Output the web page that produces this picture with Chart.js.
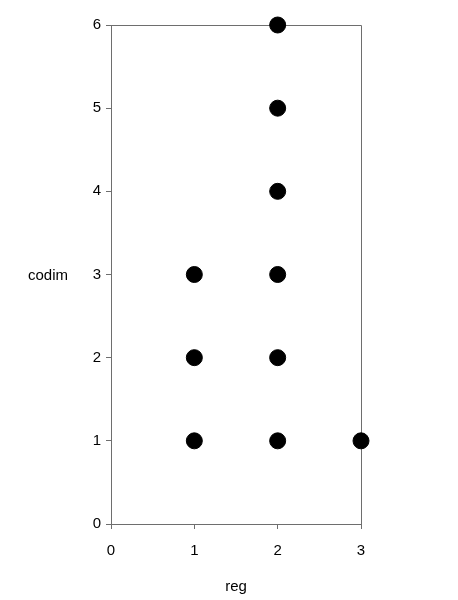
<!DOCTYPE html>
<html>
<head>
<meta charset="utf-8">
<script src="https://cdn.jsdelivr.net/npm/chart.js@4"></script>
<style>
html,body{margin:0;padding:0;background:#fff;}
#wrap{width:458px;height:600px;position:relative;}
</style>
</head>
<body>
<div id="wrap"><canvas id="c" width="458" height="600"></canvas></div>
<script>
const regValues = [1, 1, 1, 2, 2, 2, 2, 2, 2, 3];
const codimValues = [1, 2, 3, 1, 2, 3, 4, 5, 6, 1];
const xTicks = [0, 1, 2, 3];
const yTicks = [0, 1, 2, 3, 4, 5, 6];
const xTitle = 'reg';
const yTitle = 'codim';

const points = regValues.map((x, i) => ({x: x, y: codimValues[i]}));
const FONT = 'Liberation Sans, Arial, sans-serif';
const AXIS = '#6e6e6e';

const framePlugin = {
  id: 'frame',
  beforeDatasetsDraw(chart) {
    const a = chart.chartArea, ctx = chart.ctx;
    ctx.save();
    ctx.strokeStyle = AXIS;
    ctx.lineWidth = 1;
    ctx.beginPath();
    ctx.moveTo(a.left, a.top + 0.5);
    ctx.lineTo(a.right + 0.5, a.top + 0.5);
    ctx.lineTo(a.right + 0.5, a.bottom);
    ctx.stroke();
    ctx.restore();
  },
  afterDraw(chart) {
    const a = chart.chartArea, ctx = chart.ctx;
    ctx.save();
    ctx.fillStyle = '#000';
    ctx.font = '15px ' + FONT;
    ctx.textAlign = 'center';
    ctx.textBaseline = 'middle';
    ctx.fillText(yTitle, 48, (a.top + a.bottom) / 2 + 1);
    ctx.fillText(xTitle, (a.left + a.right) / 2, 587);
    ctx.restore();
  }
};

new Chart(document.getElementById('c'), {
  type: 'scatter',
  data: {
    datasets: [{
      data: points,
      backgroundColor: '#000',
      borderColor: '#000',
      pointRadius: 8,
      pointHoverRadius: 8,
      clip: false
    }]
  },
  options: {
    responsive: false,
    animation: false,
    events: [],
    layout: {padding: {top: 25, right: 97, left: 0, bottom: 0}},
    plugins: {legend: {display: false}, tooltip: {enabled: false}},
    scales: {
      x: {
        type: 'linear', min: 0, max: 3,
        afterBuildTicks(s) { s.ticks = xTicks.map(v => ({value: v})); },
        afterFit(s) { s.height = 76; },
        grid: {display: true, drawOnChartArea: false, drawTicks: true, tickLength: 5, color: AXIS},
        border: {display: true, color: AXIS},
        ticks: {color: '#000', font: {family: FONT, size: 15}, padding: 13, maxRotation: 0}
      },
      y: {
        type: 'linear', min: 0, max: 6,
        afterBuildTicks(s) { s.ticks = yTicks.map(v => ({value: v})); },
        afterFit(s) { s.width = 111; },
        grid: {display: true, drawOnChartArea: false, drawTicks: true, tickLength: 5, color: AXIS},
        border: {display: true, color: AXIS},
        ticks: {color: '#000', font: {family: FONT, size: 15}, padding: 5}
      }
    }
  },
  plugins: [framePlugin]
});
</script>
</body>
</html>
